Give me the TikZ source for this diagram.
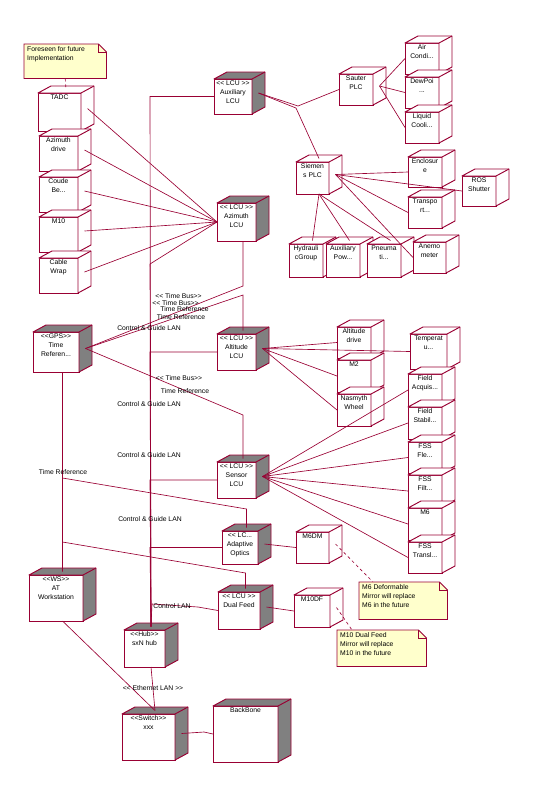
\documentclass[tikz,border=0pt]{standalone}
\usepackage{fontspec}
\setmainfont{Liberation Sans}
\usetikzlibrary{calc}

\definecolor{bordo}{RGB}{153,0,51}
\definecolor{grigio}{RGB}{128,128,128}
\definecolor{giallo}{RGB}{255,255,204}

\newcommand{\lgu}{<\kern0pt<}
\newcommand{\rgu}{>\kern0pt>}

\tikzset{
	linea/.style={draw=bordo, line width=0.55pt},
	tratteggio/.style={draw=bordo, line width=0.55pt, dash pattern=on 2.5pt off 2.5pt},
	fronte/.style={draw=bordo, line width=0.8pt, fill=white, inner sep=0pt, outer sep=0pt},
	faccia/.style={draw=bordo, line width=0.8pt, line join=round},
	testo/.style={font=\fontsize{5.8}{7.6}\selectfont, align=center, inner sep=0pt, anchor=north},
	etichetta/.style={font=\fontsize{5.8}{7}\selectfont, inner sep=0pt},
	notabordo/.style={draw=bordo, fill=giallo, line width=0.7pt},
	notatesto/.style={font=\fontsize{5.8}{7.4}\selectfont, align=left, inner sep=0pt, anchor=north west}
}

% nodo 3D: nome, x, y, larghezza, altezza, colore facce, testo
\newcommand{\nodo}[7]{%
	\node[fronte, anchor=north west, minimum width=#4*0.3mm, minimum height=#5*0.3mm] (#1) at (#2,#3) {};
	\draw[faccia, fill=#6] (#1.north west) -- ++(13,-7) -- ++(#4,0) -- ++(0,#5) -- (#1.south east) -- (#1.north east) -- cycle;
	\draw[faccia] (#1.north east) -- ++(13,-7);
	\node[testo] (#1-txt) at ([yshift=-1.2pt]#1.north) {#7};
	\coordinate (#1-r) at ($(#1.east)+(6.5,-3.5)$);
	\coordinate (#1-s) at ($(#1.north)+(6.5,-3.5)$);
	\coordinate (#1-b) at ($(#1.south)+(6.5,0)$);
}

% nota: nome, x, y, larghezza, altezza, testo
\newcommand{\nota}[6]{%
	\node[anchor=north west, inner sep=0pt, minimum width=#4*0.3mm, minimum height=#5*0.3mm] (#1) at (#2,#3) {};
	\draw[notabordo] (#1.north west) -- ($(#1.north east)+(-8,0)$) -- ($(#1.north east)+(0,8)$) -- (#1.south east) -- (#1.south west) -- cycle;
	\draw[notabordo, fill=none] ($(#1.north east)+(-8,0)$) -- ($(#1.north east)+(-8,8)$) -- ($(#1.north east)+(0,8)$);
	\node[notatesto] (#1-txt) at ($(#1.north west)+(3,2.5)$) {#6};
}

\begin{document}
\begin{tikzpicture}[x=0.03cm, y=-0.03cm]
	\useasboundingbox (0,0) rectangle (534,799);

	% Note
	\nota{notafut}{24}{44}{82}{34}{Foreseen for future\\Implementation}
	\nota{notam6}{359}{582}{88}{37}{M6 Deformable\\Mirror will replace\\M6 in the future}
	\nota{notam10}{337}{630}{89}{36}{M10 Dual Feed\\Mirror will replace\\M10 in the future}

	% Colonna di sinistra
	\nodo{tadc}{38}{93}{43}{38}{white}{TADC}
	\nodo{azdrive}{39}{136}{39}{35}{white}{Azimuth\\drive}
	\nodo{coude}{39}{177}{39}{35}{white}{Coude\\Be...}
	\nodo{mio}{39}{217}{39}{35}{white}{M10}
	\nodo{cable}{39}{258}{39}{35}{white}{Cable\\Wrap}

	% LCU
	\nodo{auxlcu}{214}{79}{38}{35}{grigio}{\lgu{} LCU \rgu\\Auxiliary\\LCU}
	\nodo{azlcu}{217}{203}{39}{38}{grigio}{\lgu{} LCU \rgu\\Azimuth\\LCU}
	\nodo{attlcu}{217}{334}{39}{36}{grigio}{\lgu{} LCU \rgu\\Altitude\\LCU}
	\nodo{senlcu}{217}{462}{39}{36}{grigio}{\lgu{} LCU \rgu\\Sensor\\LCU}
	\nodo{aolcu}{222}{531}{36}{33}{grigio}{\lgu{} LC...\\Adaptive\\Optics}
	\nodo{dflcu}{218}{592}{42}{37}{grigio}{\lgu{} LCU \rgu\\Dual Feed}

	% PLC
	\nodo{aircond}{405}{43}{34}{31}{white}{Air\\Condi...}
	\nodo{dewpoint}{405}{77}{34}{31}{white}{DewPoi\\...}
	\nodo{liquid}{405}{112}{34}{31}{white}{Liquid\\Cooli...}
	\nodo{sauter}{339}{74}{34}{31}{white}{Sauter\\PLC}
	\nodo{siemens}{296}{162}{33}{32}{white}{Siemen\\s PLC}
	\nodo{enclosure}{408}{157}{34}{30}{white}{Enclosur\\e}
	\nodo{ros}{462}{176}{34}{30}{white}{ROS\\Shutter}
	\nodo{transport}{408}{197}{34}{31}{white}{Transpo\\rt...}
	\nodo{hydraulic}{289}{244}{34}{33}{white}{Hydrauli\\cGroup}
	\nodo{auxpow}{326}{244}{34}{33}{white}{Auxiliary\\Pow...}
	\nodo{pneum}{367}{244}{34}{33}{white}{Pneuma\\ti...}
	\nodo{anemo}{413}{242}{33}{31}{white}{Anemo\\meter}

	% Altitude e Sensor
	\nodo{altdrive}{337}{327}{34}{31}{white}{Altitude\\drive}
	\nodo{m2}{337}{360}{34}{32}{white}{M2}
	\nodo{nasmyth}{337}{394}{34}{32}{white}{Nasmyth\\Wheel}
	\nodo{temp}{410}{334}{37}{35}{white}{Temperat\\u...}
	\nodo{fieldacq}{408}{374}{34}{32}{white}{Field\\Acquis...}
	\nodo{fieldstab}{408}{407}{34}{32}{white}{Field\\Stabil...}
	\nodo{fssfle}{408}{442}{34}{31}{white}{FSS\\Fle...}
	\nodo{fssfilt}{408}{475}{34}{32}{white}{FSS\\Filt...}
	\nodo{m6}{408}{508}{34}{32}{white}{M6}
	\nodo{fsstransl}{408}{542}{34}{31}{white}{FSS\\Transl...}
	\nodo{m6dm}{296}{532}{33}{31}{white}{M6DM}
	\nodo{m10df}{294}{595}{36}{32}{white}{M10DF}

	% GPS, stazione, rete
	\nodo{gps}{33}{332}{46}{40}{grigio}{\lgu GPS\rgu\\Time\\Referen...}
	\nodo{ws}{29}{575}{54}{46}{grigio}{\lgu WS\rgu\\AT\\Workstation}
	\nodo{hub}{124}{630}{41}{37}{grigio}{\lgu Hub\rgu\\sxN hub}
	\nodo{sw}{122}{714}{53}{46}{grigio}{\lgu Switch\rgu\\xxx}
	\nodo{backbone}{213}{706}{65}{56}{grigio}{BackBone}

	% Collegamenti colonna di sinistra
	\draw[tratteggio] (notafut.south) -- (tadc-s);
	\draw[linea] (tadc-r) -- (azlcu.west);
	\draw[linea] (azdrive-r) -- (azlcu.west);
	\draw[linea] (coude-r) -- (azlcu.west);
	\draw[linea] (mio-r) -- (azlcu.west);
	\draw[linea] (cable-r) -- (azlcu.west);

	% Collegamenti PLC
	\draw[linea] (auxlcu-r) -- (298,106) -- (sauter.west);
	\draw[linea] (auxlcu-r) -- (296,108) -- (siemens-s);
	\draw[linea] (sauter-r) -- (aircond.west);
	\draw[linea] (sauter-r) -- (dewpoint.west);
	\draw[linea] (sauter-r) -- (liquid.west);
	\draw[linea] (siemens-r) -- (enclosure.west);
	\draw[linea] (siemens-r) -- (ros.west);
	\draw[linea] (siemens-r) -- (transport.west);
	\draw[linea] (siemens-r) -- (anemo.west);
	\draw[linea] (siemens-b) -- (hydraulic-s);
	\draw[linea] (siemens-b) -- (auxpow-s);
	\draw[linea] (siemens-b) -- (pneum-s);

	% Collegamenti Altitude e Sensor
	\draw[linea] (attlcu-r) -- (altdrive.west);
	\draw[linea] (attlcu-r) -- (m2.west);
	\draw[linea] (attlcu-r) -- (nasmyth.west);
	\draw[linea] (attlcu-r) -- (temp.west);
	\draw[linea] (senlcu-r) -- (fieldacq.west);
	\draw[linea] (senlcu-r) -- (fieldstab.west);
	\draw[linea] (senlcu-r) -- (fssfle.west);
	\draw[linea] (senlcu-r) -- (fssfilt.west);
	\draw[linea] (senlcu-r) -- (m6.west);
	\draw[linea] (senlcu-r) -- (fsstransl.west);
	\draw[linea] (aolcu-r) -- (m6dm.west);
	\draw[linea] (dflcu-r) -- (m10df.west);
	\draw[tratteggio] (m6dm-r) -- ($(notam6.north west)+(14,0)$);
	\draw[tratteggio] (m10df-r) -- ($(notam10.north west)+(15,0)$);

	% Time Bus
	\draw[linea] (gps-r) -- (243,286) -- (azlcu-b);
	\draw[linea] (gps-r) -- (243,295) -- (attlcu-s);
	\draw[linea] (gps-r) -- (243,415) -- (senlcu-s);
	\draw[linea] (gps-b) -- (ws-s);
	\draw[linea] (gps-b) -- (62.5,478) -- (246.5,509) -- (aolcu-s);
	\draw[linea] (gps-b) -- (62.5,542) -- (245.5,573) -- (dflcu-s);

	% Control & Guide LAN
	\draw[linea] (auxlcu.west) -- (150,96.5) -- (hub-s);
	\draw[linea] (azlcu.west) -- (150,264) -- (hub-s);
	\draw[linea] (attlcu.west) -- (150,352) -- (hub-s);
	\draw[linea] (senlcu.west) -- (150,480) -- (hub-s);
	\draw[linea] (aolcu.west) -- (150,547.5) -- (hub-s);
	\draw[linea] (dflcu.west) -- (198,607) -- (152,604) -- (hub-s);

	% Ethernet
	\draw[linea] (hub-b) -- (sw-s);
	\draw[linea] (ws-b) -- (sw-s);
	\draw[linea] (sw-r) -- (204,732) -- (backbone.west);

	% Etichette
	\node[etichetta] (tb1) at (178.5,296) {\lgu{} Time Bus\rgu};
	\node[etichetta] (tb2) at (175.5,303) {\lgu{} Time Bus\rgu};
	\node[etichetta] (tr1) at (184.5,309) {Time Reference};
	\node[etichetta] (tr2) at (181,317) {Time Reference};
	\node[etichetta] (lan1) at (149,328) {Control \& Guide LAN};
	\node[etichetta] (tb3) at (179,378) {\lgu{} Time Bus\rgu};
	\node[etichetta] (tr3) at (185,391) {Time Reference};
	\node[etichetta] (lan2) at (149,404) {Control \& Guide LAN};
	\node[etichetta] (lan3) at (149,455) {Control \& Guide LAN};
	\node[etichetta] (tr4) at (63,472) {Time Reference};
	\node[etichetta] (lan4) at (150,519) {Control \& Guide LAN};
	\node[etichetta] (lan5) at (172,606) {Control LAN};
	\node[etichetta] (eth) at (153,688) {\lgu{} Ethernet LAN \rgu};
\end{tikzpicture}
\end{document}
